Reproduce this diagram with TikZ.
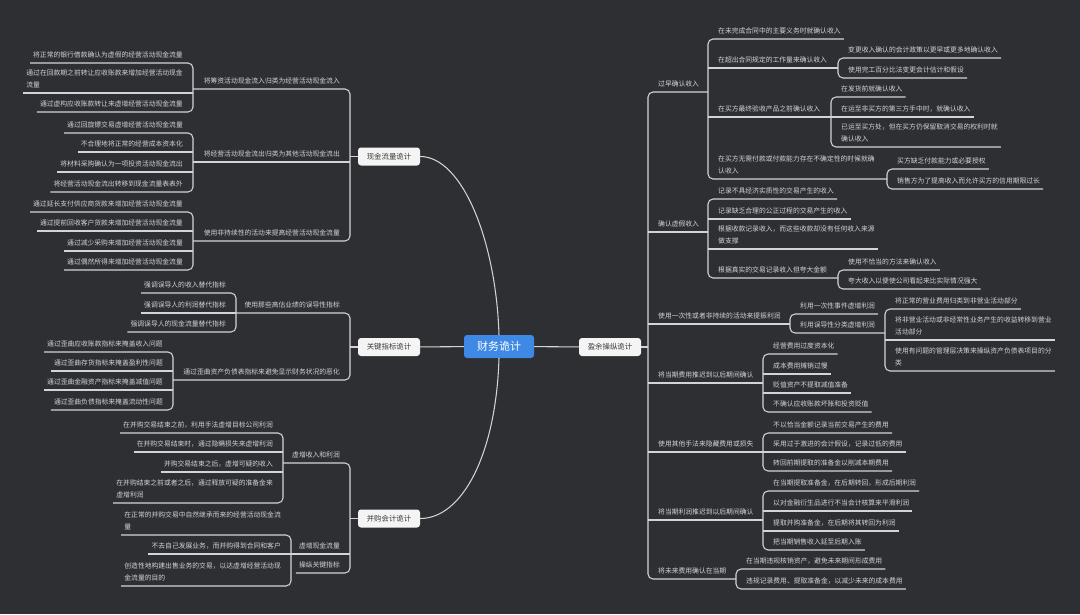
\documentclass[tikz,border=0pt]{standalone}
\usepackage{fontspec}
\newfontfamily\cjk{Noto Sans CJK SC}
\definecolor{bgc}{RGB}{45,47,51}
\definecolor{lnc}{RGB}{212,212,214}
\definecolor{txc}{RGB}{212,212,214}
\definecolor{bluec}{RGB}{62,137,230}
\definecolor{boxc}{RGB}{244,244,244}
\definecolor{boxt}{RGB}{60,60,60}
\tikzset{
  ln/.style={draw=lnc, line width=1.05pt},
  tt/.style={text=txc, font={\cjk\fontsize{6.8pt}{11.5pt}\selectfont}, inner xsep=3pt, inner ysep=0pt, align=left},
  mbox/.style={fill=boxc, rounded corners=3pt, minimum width=62pt, minimum height=18pt, inner sep=0pt, text=boxt, font={\cjk\fontsize{7.4pt}{9pt}\selectfont}},
  cbox/.style={fill=bluec, rounded corners=3pt, minimum width=70pt, minimum height=23pt, inner sep=0pt, text=white, font={\cjk\fontsize{11pt}{13pt}\selectfont}}
}
\newcommand\dnrule{\rule[-5.4pt]{0pt}{5.4pt}}
% right leaf: name, bracket x, line y, text
\newcommand\tR[4]{\node[tt,anchor=south west] (#1) at (#2+7,#3) {#4\dnrule};
  \coordinate (#1-s) at (#2,#3); \coordinate (#1-e) at (#1.south east);}
% right parent: name, bracket x, line y, line end x, text
\newcommand\tRp[5]{\node[tt,anchor=south west] (#1) at (#2+7,#3) {#5\dnrule};
  \coordinate (#1-s) at (#2,#3); \coordinate (#1-e) at (#4,#3);}
% left leaf: name, bracket x (right), line y, text
\newcommand\tL[4]{\node[tt,anchor=south east] (#1) at (#2-7,#3) {#4\dnrule};
  \coordinate (#1-s) at (#2,#3); \coordinate (#1-e) at (#1.south west);}
% left parent: name, bracket x (right), line y, line end x (left), text
\newcommand\tLp[5]{\node[tt,anchor=south east] (#1) at (#2-7,#3) {#5\dnrule};
  \coordinate (#1-s) at (#2,#3); \coordinate (#1-e) at (#4,#3);}
% groups: first, last, middle list
\newcommand\grp[3]{\draw[ln,rounded corners=5pt] (#1-e) -- (#1-s) -- (#2-s) -- (#2-e);
  \foreach \nm in {#3}{\draw[ln] (\nm-s) -- (\nm-e);}}
\newcommand\grpp[2]{\draw[ln,rounded corners=5pt] (#1-e) -- (#1-s) -- (#2-s) -- (#2-e);}
\begin{document}
\begin{tikzpicture}[x=1pt,y=-1pt]
\fill[bgc] (0,0) rectangle (1080,614);
\useasboundingbox (0,0) rectangle (1080,614);

% ---------- main nodes ----------
\node[cbox] (root) at (499,346.5) {财务诡计};
\node[mbox] (cash) at (389,156.5) {现金流量诡计};
\node[mbox] (kpi) at (389,347) {关键指标诡计};
\node[mbox] (ma) at (389,518.5) {并购会计诡计};
\node[mbox] (earn) at (610,347) {盈余操纵诡计};

\draw[ln] (root) -- (earn);
\draw[ln] (root) -- (kpi);
\draw[ln] (root.north) .. controls (496,240) and (462,156.5) .. (cash.east);
\draw[ln] (root.south) .. controls (496,455) and (462,518.5) .. (ma.east);

% ---------- cash flow ----------
\tLp{La}{350}{89}{193}{将筹资活动现金流入归类为经营活动现金流入}
\tLp{Lb}{350}{162}{193}{将经营活动现金流出归类为其他活动现金流出}
\tLp{Lc}{350}{241}{193}{使用非持续性的活动来提高经营活动现金流量}
\tL{La1}{193}{63}{将正常的银行借款确认为虚假的经营活动现金流量}
\tL{La2}{193}{93}{通过在回款期之前转让应收账款来增加经营活动现金\\流量}
\tL{La3}{193}{112}{通过虚构应收账款转让来虚增经营活动现金流量}
\tL{Lb1}{193}{133}{通过回旋镖交易虚增经营活动现金流量}
\tL{Lb2}{193}{152}{不合理地将正常的经营成本资本化}
\tL{Lb3}{193}{172}{将材料采购确认为一项投资活动现金流出}
\tL{Lb4}{193}{192}{将经营活动现金流出转移到现金流量表表外}
\tL{Lc1}{193}{212}{通过延长支付供应商货款来增加经营活动现金流量}
\tL{Lc2}{193}{231}{通过提前回收客户货款来增加经营活动现金流量}
\tL{Lc3}{193}{251}{通过减少采购来增加经营活动现金流量}
\tL{Lc4}{193}{270}{通过偶然所得来增加经营活动现金流量}
\draw[ln] (cash.west) -- (cash.west -| La-s);
\grp{La}{Lc}{Lb}
\grp{La1}{La3}{La2}
\grp{Lb1}{Lb4}{Lb2,Lb3}
\grp{Lc1}{Lc4}{Lc2,Lc3}

% ---------- key metrics ----------
\tLp{K1}{350}{313}{236}{使用那些高估业绩的误导性指标}
\tLp{K2}{350}{380}{173}{通过歪曲资产负债表指标来避免显示财务状况的恶化}
\tL{K1a}{236}{293}{强调误导人的收入替代指标}
\tL{K1b}{236}{313}{强调误导人的利润替代指标}
\tL{K1c}{236}{332}{强调误导人的现金流量替代指标}
\tL{K2a}{173}{352}{通过歪曲应收账款指标来掩盖收入问题}
\tL{K2b}{173}{371}{通过歪曲存货指标来掩盖盈利性问题}
\tL{K2c}{173}{390}{通过歪曲金融资产指标来掩盖减值问题}
\tL{K2d}{173}{410}{通过歪曲负债指标来掩盖流动性问题}
\draw[ln] (kpi.west) -- (kpi.west -| K1-s);
\grpp{K1}{K2}
\grp{K1a}{K1c}{K1b}
\grp{K2a}{K2d}{K2b,K2c}

% ---------- M&A ----------
\tLp{M1}{350}{463}{283}{虚增收入和利润}
\tLp{M2}{350}{554}{291}{虚增现金流量}
\tL{M3}{350}{573}{操纵关键指标}
\tL{M1a}{283}{433}{在并购交易结束之前，利用手法虚增目标公司利润}
\tL{M1b}{283}{452}{在并购交易结束时，通过隐瞒损失来虚增利润}
\tL{M1c}{283}{472}{并购交易结束之后，虚增可疑的收入}
\tL{M1d}{283}{503}{在并购结束之前或者之后，通过释放可疑的准备金来\\虚增利润}
\tL{M2a}{291}{535}{在正常的并购交易中自然继承而来的经营活动现金流\\量}
\tL{M2b}{291}{554}{不去自己发展业务，而并购得到合同和客户}
\tL{M2c}{291}{586}{创造性地构建出售业务的交易，以达虚增经营活动现\\金流量的目的}
\draw[ln] (ma.west) -- (ma.west -| M1-s);
\grp{M1}{M3}{M2}
\grp{M1a}{M1d}{M1b,M1c}
\grp{M2a}{M2c}{M2b}

% ---------- earnings manipulation ----------
\tRp{R1}{648}{92}{708}{过早确认收入}
\tRp{R2}{648}{232}{708}{确认虚假收入}
\tRp{R3}{648}{324}{790}{使用一次性或者非持续的活动来提振利润}
\tRp{R4}{648}{383}{763}{将当期费用推迟到以后期间确认}
\tRp{R5}{648}{452}{763}{使用其他手法来隐藏费用或损失}
\tRp{R6}{648}{520}{763}{将当期利润推迟到以后期间确认}
\tRp{R7}{648}{579}{736}{将未来费用确认在当期}
\draw[ln] (earn.east) -- (earn.east -| R1-s);
\grp{R1}{R7}{R2,R3,R4,R5,R6}

\tR{R1a}{708}{39}{在未完成合同中的主要义务时就确认收入}
\tRp{R1b}{708}{68}{838}{在超出合同规定的工作量来确认收入}
\tRp{R1c}{708}{117}{831}{在买方最终验收产品之前确认收入}
\tRp{R1d}{708}{179}{887}{在买方无需付款或付款能力存在不确定性的时候就确\\认收入}
\grp{R1a}{R1d}{R1b,R1c}
\tR{R1b1}{838}{58}{变更收入确认的会计政策以更早或更多地确认收入}
\tR{R1b2}{838}{78}{使用完工百分比法变更会计估计和假设}
\grpp{R1b1}{R1b2}
\tR{R1c1}{831}{97}{在发货前就确认收入}
\tR{R1c2}{831}{117}{在运至非买方的第三方手中时，就确认收入}
\tR{R1c3}{831}{147}{已运至买方处，但在买方仍保留取消交易的权利时就\\确认收入}
\grp{R1c1}{R1c3}{R1c2}
\tR{R1d1}{887}{169}{买方缺乏付款能力或必要授权}
\tR{R1d2}{887}{189}{销售方为了提高收入而允许买方的信用期限过长}
\grpp{R1d1}{R1d2}

\tR{R2a}{708}{199}{记录不具经济实质性的交易产生的收入}
\tR{R2b}{708}{219}{记录缺乏合理的公正过程的交易产生的收入}
\tR{R2c}{708}{249}{根据收款记录收入，而这些收款却没有任何收入来源\\做支撑}
\tRp{R2d}{708}{278}{838}{根据真实的交易记录收入但夸大金额}
\grp{R2a}{R2d}{R2b,R2c}
\tR{R2d1}{838}{270}{使用不恰当的方法来确认收入}
\tR{R2d2}{838}{289}{夸大收入以便使公司看起来比实际情况强大}
\grpp{R2d1}{R2d2}

\tR{R3a}{790}{314}{利用一次性事件虚增利润}
\tRp{R3b}{790}{333}{885}{利用误导性分类虚增利润}
\grpp{R3a}{R3b}
\tR{R3b1}{885}{309}{将正常的营业费用归类到非营业活动部分}
\tR{R3b2}{885}{340}{将非营业活动或非经常性业务产生的收益转移到营业\\活动部分}
\tR{R3b3}{885}{371}{使用有问题的管理层决策来操纵资产负债表项目的分\\类}
\grp{R3b1}{R3b3}{R3b2}

\tR{R4a}{763}{354}{经营费用过度资本化}
\tR{R4b}{763}{374}{成本费用摊销过慢}
\tR{R4c}{763}{393}{贬值资产不提取减值准备}
\tR{R4d}{763}{412}{不确认应收账款坏账和投资贬值}
\grp{R4a}{R4d}{R4b,R4c}

\tR{R5a}{763}{433}{不以恰当金额记录当前交易产生的费用}
\tR{R5b}{763}{452}{采用过于激进的会计假设，记录过低的费用}
\tR{R5c}{763}{471}{转回前期提取的准备金以削减本期费用}
\grp{R5a}{R5c}{R5b}

\tR{R6a}{763}{491}{在当期提取准备金，在后期转回，形成后期利润}
\tR{R6b}{763}{511}{以对金融衍生品进行不当会计核算来平滑利润}
\tR{R6c}{763}{531}{提取并购准备金，在后期将其转回为利润}
\tR{R6d}{763}{550}{把当期销售收入延至后期入账}
\grp{R6a}{R6d}{R6b,R6c}

\tR{R7a}{736}{569}{在当期违规核销资产，避免未来期间形成费用}
\tR{R7b}{736}{589}{违规记录费用、提取准备金，以减少未来的成本费用}
\grpp{R7a}{R7b}
\end{tikzpicture}
\end{document}
